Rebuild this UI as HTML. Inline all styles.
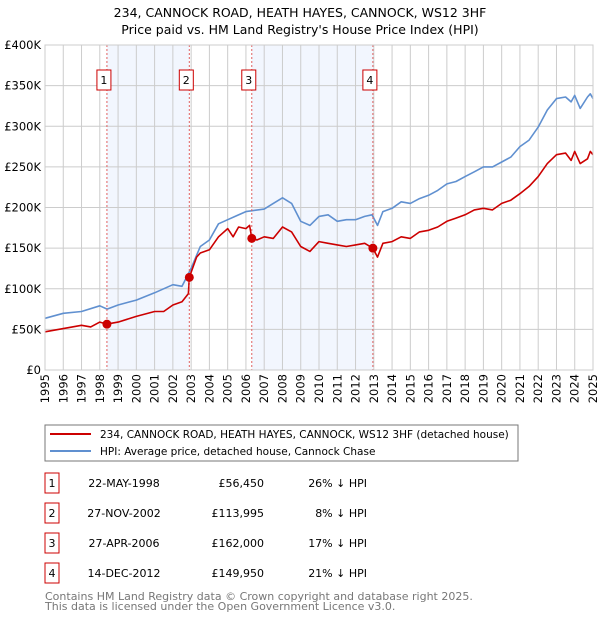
<!DOCTYPE html>
<html><head><meta charset="utf-8"><style>
body{margin:0;background:#fff;font-family:"DejaVu Sans","Liberation Sans",sans-serif;}
#wrap{position:relative;width:600px;height:620px;overflow:hidden;}
</style></head><body><div id="wrap">
<svg id="chart" width="600" height="620" xmlns="http://www.w3.org/2000/svg" font-family="DejaVu Sans, Liberation Sans, sans-serif">
<text x="300" y="17" text-anchor="middle" font-size="12.5" fill="#000">234, CANNOCK ROAD, HEATH HAYES, CANNOCK, WS12 3HF</text>
<text x="300" y="34" text-anchor="middle" font-size="12.5" fill="#000">Price paid vs. HM Land Registry's House Price Index (HPI)</text>
<g id="bg"></g><g id="grid"></g><g id="series"></g><g id="marks"></g><g id="axes"></g>
<rect x="45" y="425" width="473" height="36" fill="none" stroke="#777"/>
<line x1="50" y1="434" x2="91" y2="434" stroke="#cc0000" stroke-width="2"/>
<text x="100" y="438" font-size="10.5">234, CANNOCK ROAD, HEATH HAYES, CANNOCK, WS12 3HF (detached house)</text>
<line x1="50" y1="451" x2="91" y2="451" stroke="#6090d0" stroke-width="2"/>
<text x="100" y="455" font-size="10.5">HPI: Average price, detached house, Cannock Chase</text>
<g id="table" font-size="11"></g>
<text x="45" y="600" font-size="11" fill="#777">Contains HM Land Registry data © Crown copyright and database right 2025.</text>
<text x="45" y="610" font-size="11" fill="#777">This data is licensed under the Open Government Licence v3.0.</text>
</svg></div>
<script>
const hpiYears=[1995,1996,1997,1998,1998.4,1999,2000,2001,2002,2002.5,2003,2003.5,2004,2004.5,2005,2005.5,2006,2007,2007.5,2008,2008.5,2009,2009.5,2010,2010.5,2011,2011.5,2012,2012.5,2012.9,2013.2,2013.5,2014,2014.5,2015,2015.5,2016,2016.5,2017,2017.5,2018,2018.5,2019,2019.5,2020,2020.5,2021,2021.5,2022,2022.5,2023,2023.5,2023.8,2024,2024.3,2024.7,2024.85,2025];
const hpiValues=[63.6,69.8,72,79,75,80,86,95,105,103,125,152,160,180,185,190,195,198,205,212,205,183,178,189,191,183,185,185,189,191,178,195,199,207,205,211,215,221,229,232,238,244,250,250,256,262,275,283,299,320,334,336,330,338,322,336,340,334];
const ppYears=[1995,1996,1997,1997.5,1998,1998.39,1999,2000,2001,2001.5,2002,2002.5,2002.85,2002.9,2003.3,2003.5,2004,2004.5,2005,2005.3,2005.6,2006,2006.2,2006.32,2006.6,2007,2007.5,2008,2008.5,2009,2009.5,2010,2010.5,2011,2011.5,2012,2012.5,2012.95,2013.2,2013.5,2014,2014.5,2015,2015.5,2016,2016.5,2017,2017.5,2018,2018.5,2019,2019.5,2020,2020.5,2021,2021.5,2022,2022.5,2023,2023.5,2023.8,2024,2024.3,2024.7,2024.85,2025];
const ppValues=[47,51,55,53,59,56.45,59,66,72,72,80,84,94,114,139,144,148,164,174,164,176,174,178,162,160,164,162,176,170,152,146,158,156,154,152,154,156,149.95,139,156,158,164,162,170,172,176,183,187,191,197,199,197,205,209,217,226,238,254,265,267,258,269,254,260,269,265];
const saleYears=[1998.39,2002.9,2006.32,2012.95];
const saleValues=[56.45,113.995,162,149.95];
const saleLabels=["1","2","3","4"];
const saleDates=["22-MAY-1998","27-NOV-2002","27-APR-2006","14-DEC-2012"];
const salePrices=["£56,450","£113,995","£162,000","£149,950"];
const salePcts=["26%","8%","17%","21%"];
const yTicks=[0,50,100,150,200,250,300,350,400];
const yTickLabels=["£0","£50K","£100K","£150K","£200K","£250K","£300K","£350K","£400K"];
const xTicks=[1995,1996,1997,1998,1999,2000,2001,2002,2003,2004,2005,2006,2007,2008,2009,2010,2011,2012,2013,2014,2015,2016,2017,2018,2019,2020,2021,2022,2023,2024,2025];

const NS="http://www.w3.org/2000/svg";
const X0=45,X1=593,Y0=370,Y1=45;
function xs(t){return X0+(t-1995)/30*(X1-X0);}
function ys(v){return Y0-v/400*(Y0-Y1);}
function mk(tag,attrs,parent){const e=document.createElementNS(NS,tag);for(const k in attrs)e.setAttribute(k,attrs[k]);parent.appendChild(e);return e;}
const bg=document.getElementById('bg'),grid=document.getElementById('grid'),series=document.getElementById('series'),marks=document.getElementById('marks'),axes=document.getElementById('axes'),table=document.getElementById('table');
for(let i=0;i<saleYears.length-1;i+=2){
 const r=mk('rect',{x:xs(saleYears[i]),y:Y1,width:xs(saleYears[i+1])-xs(saleYears[i]),height:Y0-Y1,fill:'#eef3fd',opacity:0.75},bg);
 
 
}
yTicks.forEach((v,i)=>{
 const l=mk('line',{x1:X0,x2:X1,y1:ys(v),y2:ys(v),stroke:'#ccc','stroke-width':1},grid);
 
 
 const t=mk('text',{x:X0-4,y:ys(v)+4,'text-anchor':'end','font-size':11.5},axes);
 t.textContent=yTickLabels[i];
 
 
});
xTicks.forEach(yr=>{
 const l=mk('line',{x1:xs(yr),x2:xs(yr),y1:Y1,y2:Y0,stroke:'#ccc','stroke-width':1},grid);
 
 
 const t=mk('text',{x:0,y:0,'text-anchor':'end','font-size':11.5,transform:`translate(${xs(yr)+4},${Y0+4}) rotate(-90)`},axes);
 t.textContent=yr;
 
 
});
function path(xv,yv,color,name){
 const d=xv.map((t,i)=>(i?'L':'M')+xs(t).toFixed(1)+','+ys(yv[i]).toFixed(1)).join('');
 const p=mk('path',{d:d,fill:'none',stroke:color,'stroke-width':1.6,'stroke-linejoin':'round'},series);
 
 
}
path(hpiYears,hpiValues,'#6090d0','hpi-line');
path(ppYears,ppValues,'#cc0000','price-paid-line');
saleYears.forEach((t,i)=>{
 const l=mk('line',{x1:xs(t),x2:xs(t),y1:Y1,y2:Y0,stroke:'#e06060','stroke-width':1,'stroke-dasharray':'2,2'},marks);
 
 
 const c=mk('circle',{cx:xs(t),cy:ys(saleValues[i]),r:4.5,fill:'#cc0000'},marks);
 
 
 const b=mk('rect',{x:xs(t)-10,y:70,width:14,height:20,fill:'#fff',stroke:'#cc0000'},marks);
 
 
 const tx=mk('text',{x:xs(t)-3,y:84,'text-anchor':'middle','font-size':11},marks);
 tx.textContent=saleLabels[i];
 
 
 const ry=483+i*30;
 const rb=mk('rect',{x:45,y:ry-10,width:14,height:20,fill:'#fff',stroke:'#cc0000'},table);
 
 
 const cells=[[52,'middle',saleLabels[i],'table-row-number'],[124,'middle',saleDates[i],'table-date'],[264,'end',salePrices[i],'table-price'],[367,'end',salePcts[i]+' ↓ HPI','table-hpi-diff']];
 cells.forEach(c2=>{
  const e=mk('text',{x:c2[0],y:ry+4,'text-anchor':c2[1]},table);
  e.textContent=c2[2];
  
  
 });
});
const fr=mk('rect',{x:X0,y:Y1,width:X1-X0,height:Y0-Y1,fill:'none',stroke:'#ccc'},axes);


</script></body></html>
